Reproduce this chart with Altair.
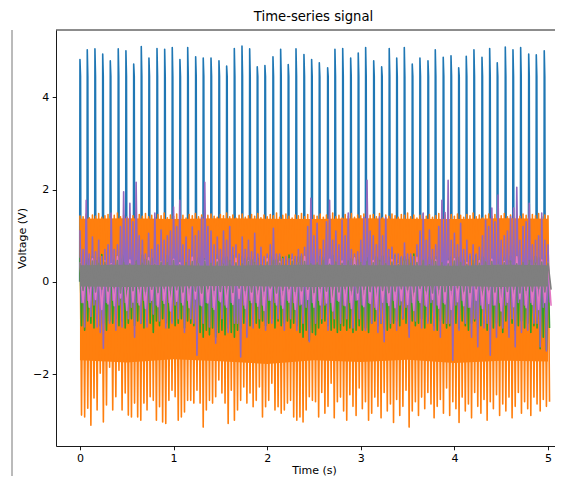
import altair as alt
import pandas as pd

# ---------------- data ----------------
# blue spike train: spike times (s) and peak voltages (V)
blue_times = [0.000, 0.078, 0.160, 0.243, 0.324, 0.409, 0.491, 0.574, 0.655, 0.737,
              0.823, 0.905, 0.986, 1.068, 1.151, 1.236, 1.317, 1.400, 1.485, 1.567,
              1.649, 1.731, 1.813, 1.894, 1.976, 2.062, 2.144, 2.225, 2.308, 2.393,
              2.475, 2.557, 2.646, 2.724, 2.807, 2.892, 2.973, 3.052, 3.138, 3.223,
              3.304, 3.384, 3.465, 3.550, 3.632, 3.718, 3.796, 3.881, 3.964, 4.046,
              4.127, 4.209, 4.295, 4.377, 4.458, 4.544, 4.626, 4.708, 4.794, 4.875,
              4.960]
blue_peaks = [4.82, 5.03, 5.05, 4.94, 4.79, 5.05, 5.01, 4.72, 5.10, 4.85,
              5.06, 5.04, 5.08, 4.82, 5.08, 4.88, 4.85, 4.85, 4.79, 4.68,
              5.06, 5.11, 5.05, 4.66, 4.69, 4.88, 5.04, 4.71, 5.05, 4.93,
              4.82, 4.75, 4.64, 5.04, 5.06, 4.85, 4.96, 5.08, 4.79, 4.66,
              5.06, 4.85, 5.08, 4.72, 4.85, 4.79, 5.03, 4.87, 4.90, 4.64,
              4.89, 5.03, 4.87, 5.06, 4.75, 5.09, 5.03, 5.08, 4.94, 4.92,
              5.01]
blue_shoulder = 4.45
blue_base = 0.0

# orange: local maxima / minima on a 30 Hz grid
orange_hi = [1.44,1.41,1.47,1.39,1.45,1.42,1.48,1.40,1.43,1.46,1.38,1.44,1.49,1.41,1.45,1.40,1.47,1.43,1.39,1.46,1.42,1.48,1.41,1.44,1.40,1.46,1.43,1.49,1.39,1.45,
             1.42,1.47,1.40,1.44,1.38,1.46,1.43,1.48,1.41,1.45,1.39,1.44,1.47,1.42,1.40,1.46,1.43,1.49,1.41,1.45,1.38,1.44,1.47,1.40,1.43,1.46,1.42,1.48,1.39,1.45,
             1.41,1.46,1.43,1.49,1.40,1.44,1.47,1.42,1.38,1.45,1.43,1.48,1.41,1.46,1.39,1.44,1.42,1.47,1.40,1.45,1.43,1.49,1.41,1.44,1.38,1.46,1.42,1.48,1.40,1.45,
             1.43,1.47,1.40,1.44,1.46,1.41,1.48,1.39,1.45,1.42,1.47,1.43,1.40,1.46,1.44,1.49,1.41,1.45,1.38,1.44,1.47,1.42,1.46,1.40,1.43,1.48,1.41,1.45,1.39,1.46,
             1.42,1.47,1.44,1.40,1.46,1.43,1.49,1.41,1.45,1.38,1.44,1.47,1.42,1.46,1.40,1.43,1.48,1.41,1.45,1.39,1.46,1.42,1.47,1.44,1.40,1.46,1.43,1.48,1.41,1.45,1.43]
orange_lo = [-2.89,-2.93,-2.74,-3.11,-2.52,-2.78,-1.98,-3.04,-2.67,-1.85,-2.78,-2.49,-1.92,-2.78,-2.41,-2.89,-2.93,-2.63,-2.93,-3.00,
             -2.63,-2.78,-2.49,-2.57,-3.00,-2.71,-3.04,-3.07,-2.57,-2.35,-2.49,-3.00,-2.93,-2.82,-2.57,-2.57,-2.63,-2.35,-2.63,-3.15,
             -2.78,-2.57,-2.63,-2.49,-2.13,-2.41,-2.63,-3.07,-2.35,-3.00,-2.78,-2.57,-2.28,-2.63,-2.41,-2.71,-2.57,-2.28,-2.93,-2.71,
             -2.57,-2.20,-2.78,-2.71,-2.85,-2.78,-2.63,-2.57,-2.93,-3.00,-2.93,-3.04,-2.78,-2.49,-2.57,
             -2.60,-2.93,-2.40,-2.85,-2.70,-2.20,-2.95,-2.60,-2.50,-2.80,-3.00,-2.45,-2.70,-2.90,-2.30,-2.75,-2.60,-3.00,-2.85,-2.50,
             -2.70,-2.95,-2.40,-2.80,-2.65,-3.05,-2.55,-2.90,-2.70,-2.35,-3.15,-2.80,-2.60,-2.90,-2.50,-2.75,-2.40,-2.65,-2.95,-2.70,
             -2.55,-2.85,-2.30,-2.90,-2.60,-2.75,-3.05,-2.50,-2.80,-2.65,-2.95,-2.40,-2.70,-2.85,-2.55,-3.00,-2.60,-2.75,-2.45,-2.90,
             -2.65,-2.80,-2.50,-2.95,-2.70,-2.40,-2.85,-2.60,-2.75,-2.90,-2.50,-2.65,-2.80,-2.55,-2.70,-2.60]
core_times = [0.0, 0.5, 1.0, 1.5, 2.0, 2.5, 3.0, 3.5, 4.0, 4.5, 5.0]
orange_core_lo = [-1.70, -1.75, -1.68, -1.72, -1.78, -1.70, -1.74, -1.69, -1.76, -1.71, -1.73]
orange_core_hi = [1.37, 1.38, 1.36, 1.38, 1.37, 1.36, 1.38, 1.37, 1.36, 1.38, 1.37]

# green (30 Hz grid)
green_hi = [0.52,0.48,0.57,0.50,0.55,0.46,0.53,0.59,0.49,0.54,0.51,0.47,0.56,0.50,0.60,0.48,0.53,0.55,0.46,0.52,0.58,0.49,0.54,0.51,0.47,0.56,0.52,0.50,0.57,0.48,
            0.53,0.55,0.47,0.51,0.58,0.49,0.54,0.46,0.52,0.56,0.50,0.48,0.55,0.53,0.59,0.47,0.51,0.54,0.49,0.57,0.52,0.46,0.55,0.50,0.53,0.48,0.56,0.51,0.54,0.47,
            0.50,0.57,0.52,0.48,0.55,0.53,0.46,0.58,0.51,0.49,0.54,0.56,0.47,0.52,0.50,0.59,0.48,0.55,0.53,0.46,0.51,0.57,0.49,0.54,0.52,0.47,0.56,0.50,0.53,0.48,
            0.55,0.49,0.52,0.58,0.47,0.54,0.51,0.56,0.48,0.53,0.50,0.57,0.46,0.52,0.55,0.49,0.54,0.60,0.47,0.51,0.56,0.50,0.53,0.48,0.55,0.52,0.46,0.58,0.51,0.54,
            0.49,0.53,0.56,0.47,0.52,0.55,0.50,0.58,0.48,0.54,0.51,0.46,0.57,0.53,0.49,0.55,0.52,0.47,0.56,0.50,0.54,0.48,0.59,0.51,0.53,0.47,0.55,0.52,0.49,0.56,0.52]
green_lo = [-0.95,-1.05,-0.85,-0.90,-1.00,-0.80,-0.95,-0.90,-1.05,-0.85,-0.90,-0.80,-0.95,-0.85,-1.00,-0.90,-0.80,-0.95,-0.85,-0.90,-1.00,-0.85,-0.90,-1.10,-0.85,-0.95,-0.80,-0.90,-1.00,-0.85,
            -0.95,-0.90,-0.80,-1.00,-0.85,-0.90,-0.95,-0.85,-1.10,-1.20,-1.05,-1.15,-1.00,-1.20,-1.10,-1.05,-1.15,-1.00,-1.10,-1.20,-1.05,-1.00,-0.90,-0.85,-0.95,-0.80,-0.90,-1.00,-0.85,-0.95,
            -0.90,-0.80,-1.00,-0.85,-0.95,-0.90,-0.85,-1.00,-0.90,-0.95,-1.10,-1.20,-1.05,-1.27,-1.10,-1.15,-1.00,-0.90,-0.85,-0.95,-1.05,-1.00,-1.10,-1.05,-0.95,-1.05,-1.00,-1.10,-1.05,-0.95,
            -1.05,-1.00,-1.10,-0.90,-0.85,-0.95,-0.90,-1.00,-1.05,-1.00,-0.90,-0.85,-0.95,-0.80,-0.90,-1.00,-0.85,-0.95,-0.90,-0.80,-1.00,-0.85,-0.90,-0.95,-1.05,-0.85,-0.90,-1.00,-0.95,-0.85,
            -0.90,-1.00,-0.85,-0.95,-1.05,-0.90,-0.85,-1.00,-0.95,-0.90,-1.05,-0.85,-1.00,-0.90,-0.95,-1.10,-0.85,-1.00,-0.90,-1.05,-0.95,-0.85,-1.00,-0.90,-1.10,-0.95,-1.00,-1.45,-1.20,-1.48,-1.00]

# purple (30 Hz grid)
purple_hi = [1.12,0.70,1.77,0.60,0.97,0.65,0.90,0.55,0.70,0.80,1.49,0.70,0.80,1.20,1.95,1.40,1.70,1.30,2.16,1.00,
             0.90,0.60,1.05,0.70,1.49,0.80,1.12,0.90,1.00,1.10,1.62,1.20,1.77,0.80,0.97,0.70,1.19,1.00,1.10,1.40,
             2.16,1.20,1.10,0.80,0.97,0.70,1.10,0.90,1.20,0.75,0.80,0.60,0.97,0.70,0.90,0.65,1.05,0.60,0.75,0.55,
             0.60,0.80,1.16,0.60,0.60,0.50,0.55,0.50,0.60,0.55,0.70,0.60,0.75,1.20,1.81,1.00,1.27,0.70,0.90,1.30,
             1.77,0.90,1.10,0.80,1.34,1.00,1.49,0.70,0.60,0.65,0.90,1.40,2.20,1.10,1.00,0.80,1.41,1.00,1.40,0.70,
             0.75,0.60,0.60,0.55,0.84,0.60,0.60,0.55,0.80,1.10,1.49,0.90,1.12,0.70,0.80,1.20,1.77,1.50,2.20,0.90,
             1.05,0.80,1.27,0.70,0.90,0.60,0.80,0.60,0.75,1.00,1.34,1.20,1.60,1.30,1.88,0.90,1.00,1.10,1.41,1.60,
             2.05,0.90,1.20,1.30,1.70,0.80,0.90,1.00,1.49,0.90,0.80]
purple_lo = [-0.45,-0.98,-0.40,-0.75,-0.50,-0.98,-1.10,-1.44,-0.45,-0.90,-0.40,-1.05,-0.50,-0.98,-0.45,-0.80,-0.55,-1.20,-0.45,-0.90,
             -0.40,-0.98,-0.45,-0.70,-0.50,-0.85,-0.40,-1.00,-0.45,-0.90,-0.50,-0.80,-0.45,-1.10,-0.40,-0.80,-0.90,-1.59,-0.50,-0.90,
             -0.45,-0.98,-0.55,-1.33,-0.40,-0.80,-0.50,-1.10,-0.45,-0.90,-0.90,-1.63,-0.50,-1.20,-0.40,-1.00,-0.45,-0.80,-0.50,-1.05,
             -0.40,-0.90,-0.45,-0.80,-0.50,-1.05,-0.40,-0.80,-0.45,-1.05,-0.50,-0.90,-0.55,-1.30,-0.45,-0.90,-0.40,-0.80,-0.50,-1.05,
             -0.45,-0.80,-0.40,-0.90,-0.50,-0.80,-0.45,-1.00,-0.40,-0.80,-0.50,-1.05,-0.45,-0.90,-0.55,-1.10,-0.90,-1.30,-0.45,-0.90,
             -0.40,-1.05,-0.50,-0.80,-0.55,-1.20,-0.45,-0.85,-0.40,-1.00,-0.50,-0.90,-0.45,-1.05,-0.50,-1.20,-0.45,-0.90,-0.90,-1.70,
             -0.50,-1.05,-0.40,-0.90,-0.55,-1.20,-0.80,-1.41,-0.50,-1.00,-0.90,-1.59,-0.50,-1.20,-0.45,-1.00,-0.50,-1.20,-0.80,-1.41,
             -0.45,-1.10,-0.50,-1.05,-0.45,-0.90,-0.90,-1.41,-0.55,-1.50,-0.45]

# pink (15 Hz grid)
pink_hi = [0.42,0.36,0.50,0.33,0.45,0.39,0.55,0.35,0.47,0.40,0.31,0.52,0.38,0.44,0.34,0.49,0.41,0.36,0.53,0.39,
           0.46,0.32,0.48,0.37,0.43,0.51,0.35,0.45,0.40,0.34,0.50,0.38,0.44,0.33,0.47,0.41,0.55,0.36,0.42,0.39,
           0.49,0.34,0.45,0.37,0.52,0.40,0.35,0.46,0.43,0.31,0.48,0.39,0.44,0.36,0.53,0.41,0.34,0.47,0.38,0.45,
           0.50,0.35,0.42,0.40,0.46,0.33,0.49,0.37,0.44,0.41,0.54,0.36,0.43,0.39,0.47,0.42]
pink_lo = [-0.45,-0.55,-0.38,-0.60,-0.48,-0.52,-0.35,-0.62,-0.44,-0.50,-0.58,-0.40,-0.54,-0.47,-0.63,-0.42,-0.50,-0.56,-0.37,-0.52,
           -0.46,-0.60,-0.43,-0.55,-0.49,-0.36,-0.58,-0.45,-0.53,-0.62,-0.40,-0.50,-0.57,-0.44,-0.60,-0.48,-0.38,-0.55,-0.50,-0.46,
           -0.63,-0.42,-0.52,-0.58,-0.39,-0.54,-0.47,-0.60,-0.44,-0.51,-0.56,-0.41,-0.49,-0.62,-0.45,-0.53,-0.38,-0.57,-0.48,-0.60,
           -0.43,-0.52,-0.55,-0.40,-0.58,-0.47,-0.50,-0.63,-0.44,-0.54,-0.37,-0.56,-0.49,-0.60,-0.45,-0.52]

# gray (15 Hz grid) and its solid core
gray_hi = [0.41,0.38,0.45,0.40,0.43,0.37,0.46,0.42,0.39,0.44,0.40,0.45,0.38,0.43,0.41,0.46,0.37,0.42,0.44,0.39,
           0.45,0.40,0.43,0.38,0.46,0.41,0.39,0.44,0.42,0.37,0.43,0.46,0.40,0.38,0.45,0.41,0.44,0.39,0.42,0.46,
           0.38,0.43,0.40,0.45,0.37,0.42,0.44,0.41,0.46,0.39,0.43,0.38,0.45,0.40,0.42,0.46,0.37,0.44,0.41,0.39,
           0.45,0.42,0.38,0.46,0.40,0.43,0.44,0.37,0.41,0.45,0.39,0.42,0.46,0.40,0.43,0.41]
gray_lo = [-0.18,-0.14,-0.22,-0.16,-0.20,-0.13,-0.24,-0.17,-0.19,-0.15,-0.21,-0.16,-0.23,-0.14,-0.19,-0.17,-0.22,-0.13,-0.20,-0.24,
           -0.15,-0.18,-0.21,-0.16,-0.23,-0.14,-0.19,-0.22,-0.17,-0.20,-0.13,-0.24,-0.18,-0.15,-0.21,-0.19,-0.16,-0.23,-0.14,-0.20,
           -0.17,-0.22,-0.15,-0.19,-0.24,-0.16,-0.21,-0.13,-0.18,-0.23,-0.20,-0.15,-0.17,-0.22,-0.14,-0.19,-0.24,-0.16,-0.21,-0.18,
           -0.13,-0.20,-0.23,-0.15,-0.19,-0.17,-0.22,-0.14,-0.21,-0.16,-0.24,-0.18,-0.20,-0.15,-0.22,-0.17]
gray_core_lo = [-0.10, -0.11, -0.10, -0.09, -0.10, -0.11, -0.10, -0.10, -0.09, -0.11, -0.10]
gray_core_hi = [0.36, 0.37, 0.36, 0.35, 0.36, 0.37, 0.36, 0.36, 0.35, 0.37, 0.36]

x_ticks = [0, 1, 2, 3, 4, 5]
y_ticks = [-2, 0, 2, 4]

# ---------------- tables ----------------
def zigzag(hi, lo, rate):
    rows = []
    for i, (a, b) in enumerate(zip(hi, lo)):
        rows.append({"t": i / rate, "v": a})
        rows.append({"t": (i + 0.5) / rate, "v": b})
    return pd.DataFrame(rows)

blue_rows = []
for t, p in zip(blue_times, blue_peaks):
    blue_rows += [{"t": t - 0.003, "v": blue_base}, {"t": t, "v": p},
                  {"t": t + 0.006, "v": blue_shoulder}, {"t": t + 0.010, "v": blue_base}]
blue_df = pd.DataFrame(blue_rows)
orange_df = zigzag(orange_hi, orange_lo, 30.0)
green_df = zigzag(green_hi, green_lo, 30.0)
purple_df = zigzag(purple_hi, purple_lo, 30.0)
pink_df = zigzag(pink_hi, pink_lo, 15.0)
gray_df = zigzag(gray_hi, gray_lo, 15.0)
orange_core = pd.DataFrame({"t": core_times, "lo": orange_core_lo, "hi": orange_core_hi})
gray_core = pd.DataFrame({"t": core_times, "lo": gray_core_lo, "hi": gray_core_hi})
one_row = pd.DataFrame({"k": [0]})

# ---------------- chart ----------------
W, H = 499, 416
FONT = "DejaVu Sans"
xs = alt.Scale(domain=[-0.256, 5.075], nice=False, zero=False)
ys = alt.Scale(domain=[-3.56, 5.46], nice=False, zero=False)
x_axis = alt.Axis(values=x_ticks, format="d", title="Time (s)", grid=False,
                  tickSize=3.8, labelPadding=2.8, titleX=258, titleY=27,
                  titleBaseline="alphabetic")
y_axis = alt.Axis(values=y_ticks, format="d", title="Voltage (V)", grid=False,
                  tickSize=3.8, labelPadding=3.5, titlePadding=5,
                  labelExpr="replace(datum.label, '-', '\u2212')")

def X():
    return alt.X("t:Q", scale=xs, axis=x_axis)

def line_layer(df, color):
    return alt.Chart(df).mark_line(color=color, strokeWidth=1.6, strokeJoin="round", clip=True).encode(
        x=X(), y=alt.Y("v:Q", scale=ys, axis=y_axis))

def band_layer(df, color):
    return alt.Chart(df).mark_area(color=color, opacity=1, clip=True).encode(
        x=X(), y=alt.Y("lo:Q", scale=ys, axis=y_axis), y2="hi:Q")

top_rule = alt.Chart(one_row).mark_rule(color="black", strokeWidth=0.9).encode(
    x=alt.value(0), x2=alt.value(W), y=alt.value(0))
fig_border = alt.Chart(one_row).mark_rule(color="#777777", strokeWidth=1).encode(
    x=alt.value(-44), y=alt.value(0), y2=alt.value(446))

chart = alt.layer(
    line_layer(blue_df, "#1f77b4"),
    band_layer(orange_core, "#ff7f0e"),
    line_layer(orange_df, "#ff7f0e"),
    line_layer(green_df, "#2ca02c"),
    line_layer(purple_df, "#9467bd"),
    line_layer(pink_df, "#e377c2"),
    band_layer(gray_core, "#7f7f7f"),
    line_layer(gray_df, "#7f7f7f"),
    top_rule,
    fig_border,
).properties(
    width=W, height=H,
    title=alt.TitleParams("Time-series signal", fontSize=13.2, font=FONT, fontWeight="normal",
                          color="black", offset=5, dx=8, anchor="middle", frame="group"),
    padding={"left": 48, "top": 22, "right": 0, "bottom": 30},
    autosize=alt.AutoSizeParams(type="none"),
).configure_view(stroke="transparent").configure_axis(
    labelFont=FONT, titleFont=FONT, labelFontSize=11, titleFontSize=11,
    labelColor="black", titleColor="black", titleFontWeight="normal",
    domainColor="black", tickColor="black", domainWidth=0.9, tickWidth=0.9,
)

chart.save("out.html", embed_options={"renderer": "svg", "actions": False})
